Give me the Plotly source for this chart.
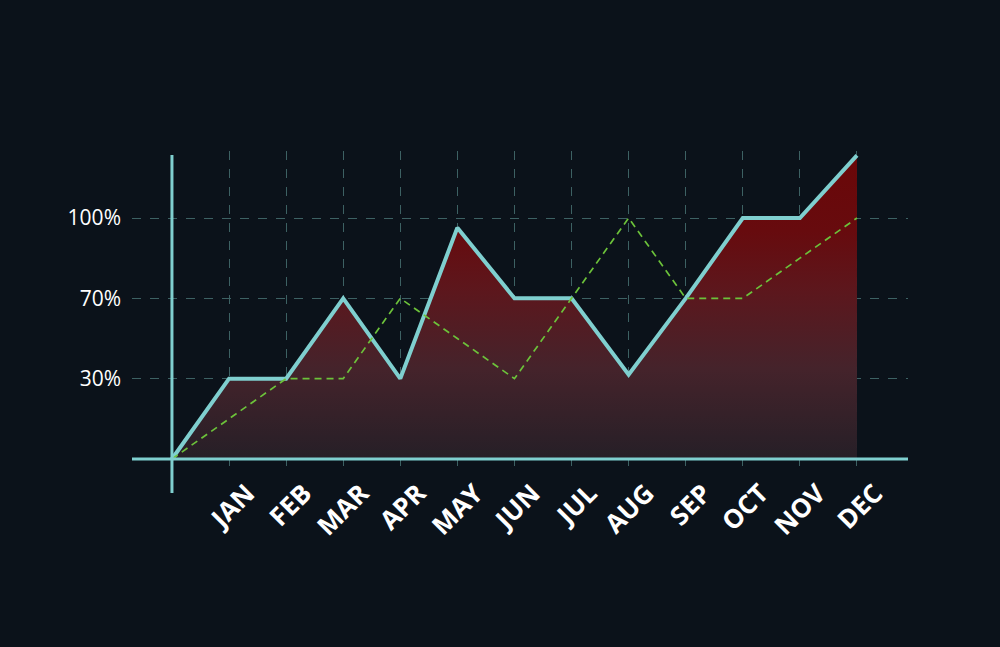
import plotly.graph_objects as go

# ---- data ----
months = ["JAN", "FEB", "MAR", "APR", "MAY", "JUN", "JUL", "AUG", "SEP", "OCT", "NOV", "DEC"]
x_pos = list(range(0, 13))  # 0 = origin, 1..12 = months
main_vals = [0, 1, 1, 2, 1, 2.88, 2, 2, 1.05, 2, 3, 3, 3.78]
second_vals = [0, 0.5, 1, 1, 2, 1.5, 1, 2, 3, 2, 2, 2.5, 3]
ytick_vals = [1, 2, 3]
ytick_text = ["30%", "70%", "100%"]

BG = "#0b121a"
TEAL = "#7fcfcf"
GRID = "#3d6163"

fig = go.Figure()

fig.add_trace(go.Scatter(
    x=x_pos, y=main_vals, mode="lines",
    line=dict(color=TEAL, width=4),
    fill="tozeroy",
    fillgradient=dict(
        type="vertical", start=0, stop=3.78,
        colorscale=[[0, "#261f27"], [0.3, "#45232b"], [0.55, "#5c171d"],
                    [0.75, "#670b0e"], [1, "#6a0708"]],
    ),
    showlegend=False, hoverinfo="skip",
))

fig.add_trace(go.Scatter(
    x=x_pos, y=second_vals, mode="lines",
    line=dict(color="#6cc23a", width=1.7, dash="7px,5px"),
    showlegend=False, hoverinfo="skip",
))

# axis lines
fig.add_shape(type="line", xref="x", yref="paper", x0=0, x1=0,
              y0=-0.0654, y1=0.9875, line=dict(color=TEAL, width=3), layer="above")
fig.add_shape(type="line", xref="paper", yref="y", x0=0, x1=1,
              y0=0, y1=0, line=dict(color=TEAL, width=3), layer="above")

fig.update_layout(
    width=1000, height=647,
    paper_bgcolor=BG, plot_bgcolor=BG,
    margin=dict(l=132, r=92, t=151, b=175),
    xaxis=dict(
        range=[-0.70, 12.894],
        tickvals=list(range(1, 13)), ticktext=months,
        tickangle=-45,
        tickfont=dict(family="Open Sans", size=26, color="white", weight="bold"),
        showgrid=True, gridcolor=GRID, griddash="dash", gridwidth=1,
        zeroline=False, showline=False, ticks="",
        ticklabelshift=18, ticklabelstandoff=0,
        fixedrange=True,
    ),
    yaxis=dict(
        range=[-0.162, 3.834],
        tickvals=ytick_vals, ticktext=ytick_text,
        tickfont=dict(family="Open Sans", size=21, color="white"),
        showgrid=True, gridcolor=GRID, griddash="dash", gridwidth=1,
        zeroline=False, showline=False, ticks="", ticklabelstandoff=10,
        fixedrange=True,
    ),
)

fig.write_html(
    "out.html",
    config={"displayModeBar": False},
    post_script="document.body.style.margin='0';document.body.style.background='#0b121a';",
)
